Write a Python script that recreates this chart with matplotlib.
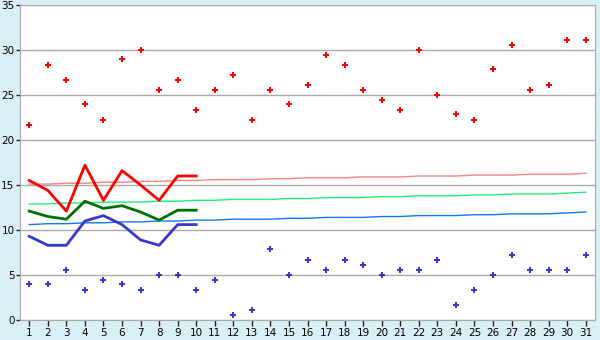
import numpy as np
import matplotlib
matplotlib.use("Agg")
import matplotlib.pyplot as plt

days = np.arange(1, 32)

# daily extremes (scatter)
t_max = [21.7, 28.3, 26.7, 24.0, 22.2, 29.0, 30.0, 25.6, 26.7, 23.3,
         25.6, 27.2, 22.2, 25.6, 24.0, 26.1, 29.4, 28.3, 25.6, 24.4,
         23.3, 30.0, 25.0, 22.9, 22.2, 27.9, 30.6, 25.6, 26.1, 31.1, 31.1]
t_min = [4.0, 4.0, 5.6, 3.3, 4.4, 4.0, 3.3, 5.0, 5.0, 3.3,
         4.4, 0.6, 1.1, 7.9, 5.0, 6.7, 5.6, 6.7, 6.1, 5.0,
         5.6, 5.6, 6.7, 1.7, 3.3, 5.0, 7.2, 5.6, 5.6, 5.6, 7.2]

# running means for the first 10 days
run_days = np.arange(1, 11)
run_max = [15.5, 14.4, 12.1, 17.2, 13.3, 16.6, 15.0, 13.3, 16.0, 16.0]
run_mean = [12.1, 11.5, 11.2, 13.2, 12.4, 12.7, 12.0, 11.1, 12.2, 12.2]
run_min = [9.3, 8.3, 8.3, 11.0, 11.6, 10.6, 8.9, 8.3, 10.6, 10.6]

# normals
norm_max = [15.1, 15.1, 15.2, 15.2, 15.3, 15.3, 15.4, 15.4, 15.5, 15.5,
            15.6, 15.6, 15.6, 15.7, 15.7, 15.8, 15.8, 15.8, 15.9, 15.9,
            15.9, 16.0, 16.0, 16.0, 16.1, 16.1, 16.1, 16.2, 16.2, 16.2, 16.3]
norm_mean = [12.9, 12.9, 13.0, 13.0, 13.1, 13.1, 13.1, 13.2, 13.2, 13.3,
             13.3, 13.4, 13.4, 13.4, 13.5, 13.5, 13.6, 13.6, 13.6, 13.7,
             13.7, 13.8, 13.8, 13.8, 13.9, 13.9, 14.0, 14.0, 14.0, 14.1, 14.2]
norm_min = [10.6, 10.7, 10.7, 10.8, 10.8, 10.9, 10.9, 11.0, 11.0, 11.1,
            11.1, 11.2, 11.2, 11.2, 11.3, 11.3, 11.4, 11.4, 11.4, 11.5,
            11.5, 11.6, 11.6, 11.6, 11.7, 11.7, 11.8, 11.8, 11.8, 11.9, 12.0]

bg = "#d9eff6"
grid_c = "#aaaaaa"

fig = plt.figure(figsize=(6, 3.4), dpi=100, facecolor=bg)
ax = fig.add_axes([20 / 600, 20 / 340, 575 / 600, 315 / 340])
ax.set_facecolor("white")

ax.plot(days, norm_max, color="#ff8080", lw=1.0)
ax.plot(days, norm_mean, color="#22ee77", lw=1.0)
ax.plot(days, norm_min, color="#1177ee", lw=1.0)

ax.plot(run_days, run_max, color="#ff0000", lw=2.0)
ax.plot(run_days, run_mean, color="#007000", lw=2.0)
ax.plot(run_days, run_min, color="#3838cc", lw=2.0)

ax.plot(days, t_max, ls="none", marker="P", ms=4.5, color="#ff0000", mew=0)
ax.plot(days, t_min, ls="none", marker="P", ms=4.5, color="#3838cc", mew=0)

ax.set_xlim(0.5, 31.5)
ax.set_ylim(0, 35)
ax.set_xticks(days)
ax.set_yticks(range(0, 36, 5))
ax.yaxis.grid(True, color=grid_c, lw=1)
ax.set_axisbelow(True)
for s in ax.spines.values():
    s.set_color(grid_c)
ax.tick_params(axis="both", colors="#222222", labelcolor="black",
               labelsize=7.5, length=3, width=1)
ax.tick_params(axis="y", pad=1)
ax.tick_params(axis="x", length=4, pad=2)

fig.savefig("out.png", dpi=100, facecolor=bg)
